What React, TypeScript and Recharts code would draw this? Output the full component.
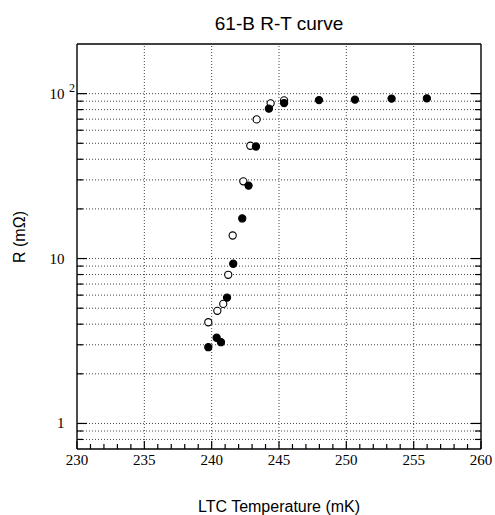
import { ScatterChart, Scatter, XAxis, YAxis, ReferenceLine } from 'recharts';

// filled circles (cooling?) and open circles
const filledT = [239.75, 240.37, 240.69, 241.14, 241.6, 242.27, 242.74, 243.29, 244.25, 245.38, 247.97, 250.64, 253.36, 255.98];
const filledR = [2.9, 3.31, 3.11, 5.8, 9.3, 17.5, 27.7, 47.8, 81.1, 87.7, 91.4, 92.0, 93.3, 93.6];
const openT = [239.75, 240.42, 240.86, 241.23, 241.56, 242.35, 242.87, 243.34, 244.38, 245.38];
const openR = [4.11, 4.82, 5.31, 7.97, 13.8, 29.4, 48.3, 69.8, 87.3, 91.0];

const xTicks = [230, 231, 232, 233, 234, 235, 236, 237, 238, 239, 240, 241, 242, 243, 244, 245, 246, 247, 248, 249, 250, 251, 252, 253, 254, 255, 256, 257, 258, 259, 260];
const xMajor = [230, 235, 240, 245, 250, 255, 260];
const xGrid = [235, 240, 245, 250, 255];
const yTicks = [0.8, 0.9, 1, 2, 3, 4, 5, 6, 7, 8, 9, 10, 20, 30, 40, 50, 60, 70, 80, 90, 100];
const yMajor = [1, 10, 100];

const filled = filledT.map((t, i) => ({ t, r: filledR[i] }));
const open = openT.map((t, i) => ({ t, r: openR[i] }));

const serif = '"Liberation Serif", "Times New Roman", serif';
const sans = '"Liberation Sans", Arial, sans-serif';

const LeftTick = (props: any) => {
  const { x, y, payload } = props;
  const v = payload.value;
  const major = yMajor.includes(v);
  return (
    <g>
      <line x1={x} x2={x + (major ? 10 : 6)} y1={y} y2={y} stroke="#000" strokeWidth={1.2} />
      {v === 1 && (
        <text x={x - 12.5} y={y + 5} textAnchor="end" fontFamily={serif} fontSize={15} fill="#000">1</text>
      )}
      {v === 10 && (
        <text x={x - 12.5} y={y + 5} textAnchor="end" fontFamily={serif} fontSize={15} fill="#000">10</text>
      )}
      {v === 100 && (
        <g>
          <text x={x - 12.5} y={y + 5} textAnchor="end" fontFamily={serif} fontSize={15} fill="#000">10</text>
          <text x={x - 8} y={y - 2} textAnchor="start" fontFamily={serif} fontSize={12} fill="#000">2</text>
        </g>
      )}
    </g>
  );
};

const RightTick = (props: any) => {
  const { x, y, payload } = props;
  const major = yMajor.includes(payload.value);
  return <line x1={x} x2={x - (major ? 10 : 6)} y1={y} y2={y} stroke="#000" strokeWidth={1.2} />;
};

const BottomTick = (props: any) => {
  const { x, y, payload } = props;
  const major = xMajor.includes(payload.value);
  return (
    <g>
      <line x1={x} x2={x} y1={y} y2={y - (major ? 8 : 5)} stroke="#000" strokeWidth={1.2} />
      {major && (
        <text x={x} y={y + 16} textAnchor="middle" fontFamily={serif} fontSize={15} fill="#000">
          {payload.value}
        </text>
      )}
    </g>
  );
};

const TopTick = (props: any) => {
  const { x, y, payload } = props;
  const major = xMajor.includes(payload.value);
  return <line x1={x} x2={x} y1={y} y2={y + (major ? 8 : 5)} stroke="#000" strokeWidth={1.2} />;
};

const dot = (fill: string) => (props: any) => (
  <circle cx={props.cx} cy={props.cy} r={3.6} fill={fill} stroke="#000" strokeWidth={1.1} />
);

export default function App() {
  return (
    <div style={{ position: 'absolute', left: 0, top: 0, width: 495, height: 515, background: '#fff' }}>
      <div
        style={{
          position: 'absolute', left: 0, top: 14, width: 558, textAlign: 'center',
          fontFamily: sans, fontSize: 19, lineHeight: 1, color: '#000',
        }}
      >
        61-B R-T curve
      </div>
      <div
        style={{
          position: 'absolute', left: 0, top: 499, width: 558, textAlign: 'center',
          fontFamily: sans, fontSize: 16, lineHeight: 1, color: '#000',
        }}
      >
        LTC Temperature (mK)
      </div>
      <div
        style={{
          position: 'absolute', left: -30, top: 229, width: 100, height: 16, textAlign: 'center',
          fontFamily: sans, fontSize: 16, lineHeight: 1, color: '#000', transform: 'rotate(-90deg)',
        }}
      >
        R (mΩ)
      </div>
      <ScatterChart width={495} height={515} margin={{ top: 0, right: 0, bottom: 0, left: 0 }}>
        <XAxis
          xAxisId="bottom"
          dataKey="t"
          type="number"
          domain={[230, 260]}
          allowDataOverflow
          ticks={xTicks}
          interval={0}
          height={66}
          tickSize={0}
          tickMargin={0}
          axisLine={{ stroke: '#000', strokeWidth: 1.4 }}
          tickLine={false}
          tick={BottomTick}
        />
        <XAxis
          xAxisId="top"
          orientation="top"
          type="number"
          domain={[230, 260]}
          allowDataOverflow
          ticks={xTicks}
          interval={0}
          height={44}
          tickSize={0}
          tickMargin={0}
          axisLine={{ stroke: '#000', strokeWidth: 1.4 }}
          tickLine={false}
          tick={TopTick}
        />
        <YAxis
          yAxisId="left"
          dataKey="r"
          type="number"
          scale="log"
          domain={[0.7, 200]}
          allowDataOverflow
          ticks={yTicks}
          interval={0}
          width={77}
          tickSize={0}
          tickMargin={0}
          axisLine={{ stroke: '#000', strokeWidth: 1.4 }}
          tickLine={false}
          tick={LeftTick}
        />
        <YAxis
          yAxisId="right"
          orientation="right"
          type="number"
          scale="log"
          domain={[0.7, 200]}
          allowDataOverflow
          ticks={yTicks}
          interval={0}
          width={14}
          tickSize={0}
          tickMargin={0}
          axisLine={{ stroke: '#000', strokeWidth: 1.4 }}
          tickLine={false}
          tick={RightTick}
        />
        {yTicks.map((v) => (
          <ReferenceLine
            key={'h' + v}
            y={v}
            xAxisId="bottom"
            yAxisId="left"
            stroke="#444"
            strokeDasharray="1 2"
            strokeWidth={1}
          />
        ))}
        {xGrid.map((v) => (
          <ReferenceLine
            key={'v' + v}
            x={v}
            xAxisId="bottom"
            yAxisId="left"
            stroke="#444"
            strokeDasharray="1 2"
            strokeWidth={1}
          />
        ))}
        <Scatter data={open} xAxisId="bottom" yAxisId="left" shape={dot('#fff')} isAnimationActive={false} />
        <Scatter data={filled} xAxisId="bottom" yAxisId="left" shape={dot('#000')} isAnimationActive={false} />
      </ScatterChart>
    </div>
  );
}
